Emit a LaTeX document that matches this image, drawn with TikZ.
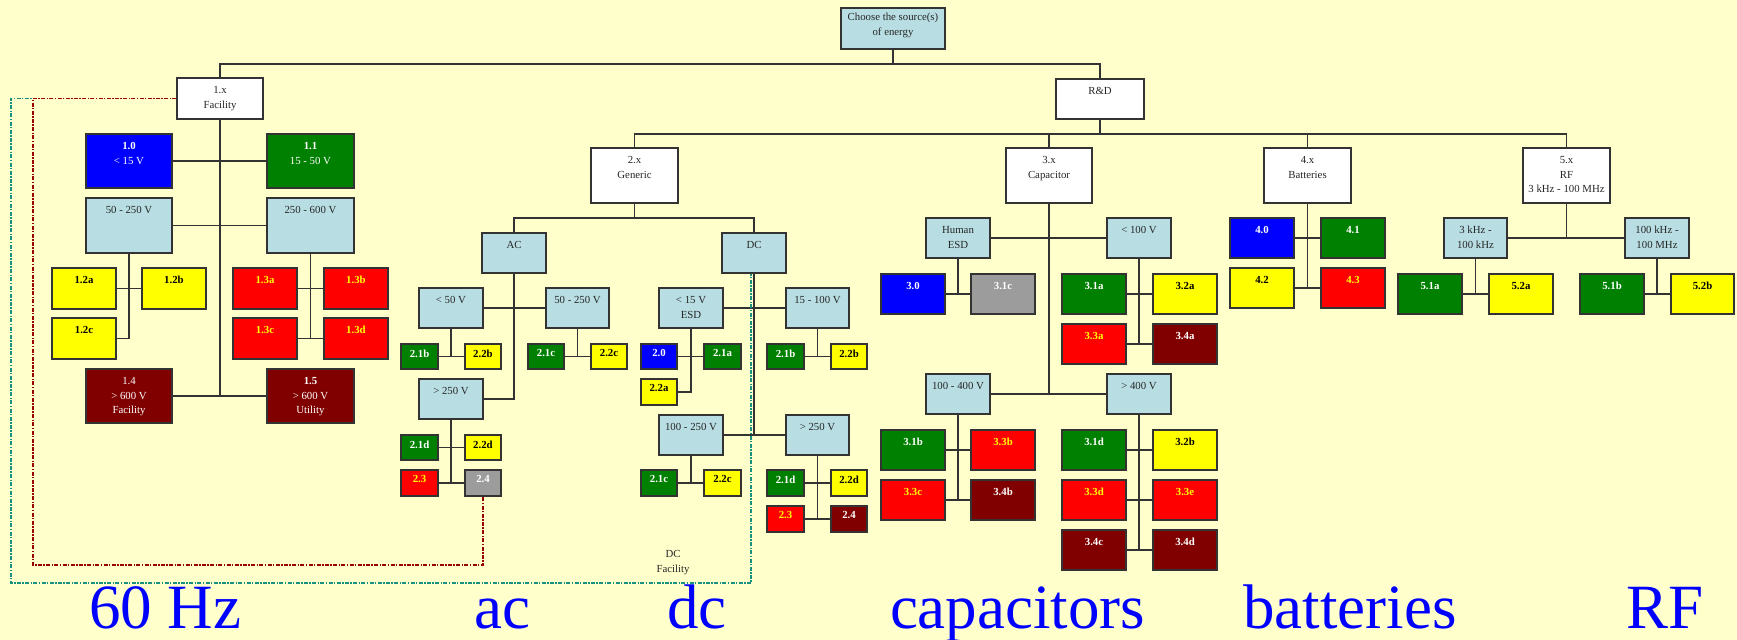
\documentclass[tikz,border=0pt]{standalone}
\usepackage{fontspec}
\setmainfont{Liberation Serif}
\usetikzlibrary{fit}
\definecolor{bg}{HTML}{FFFFCC}
\definecolor{lblue}{HTML}{B8DEE3}
\definecolor{cblue}{HTML}{0000FF}
\definecolor{cgreen}{HTML}{008000}
\definecolor{cyellow}{HTML}{FFFF00}
\definecolor{cred}{HTML}{FF0000}
\definecolor{cmaroon}{HTML}{800000}
\definecolor{cgrey}{HTML}{9C9C9C}
\definecolor{lnc}{HTML}{333333}
\definecolor{tealc}{HTML}{1A9080}
\definecolor{redc}{HTML}{990000}
\newcommand\bfont{\fontsize{5.4}{7.4}\selectfont}
\tikzset{
 box/.style={draw=lnc, line width=0.6pt, inner sep=0pt},
 btext/.style={anchor=north, inner sep=0pt, align=center, font=\bfont},
 lb/.style={fill=lblue}, lb t/.style={text=black!85},
 wh/.style={fill=white}, wh t/.style={text=black!85},
 bl/.style={fill=cblue}, bl t/.style={text=white, font=\bfont\bfseries},
 gr/.style={fill=cgreen}, gr t/.style={text=white, font=\bfont\bfseries},
 ye/.style={fill=cyellow}, ye t/.style={text=black, font=\bfont\bfseries},
 rd/.style={fill=cred}, rd t/.style={text=cyellow, font=\bfont\bfseries},
 mr/.style={fill=cmaroon}, mr t/.style={text=white, font=\bfont\bfseries},
 gy/.style={fill=cgrey}, gy t/.style={text=white, font=\bfont\bfseries},
 conn/.style={draw=lnc, line width=0.7pt},
 tealdot/.style={draw=tealc, line width=0.6pt, dash pattern=on 2pt off 0.7pt on 0.7pt off 0.7pt},
 reddot/.style={draw=redc, line width=0.6pt, dash pattern=on 2pt off 0.7pt on 0.7pt off 0.7pt},
 big/.style={anchor=base west, inner sep=0pt, text=cblue, font=\fontsize{31.5}{36}\selectfont},
}
\newcommand\bx[8][4.2pt]{%
 \node[box,#7,fit={(#3,#4) (#5,#6)}] (#2) {};
 \node[btext,#7 t] (#2-t) at ([yshift=-#1]#2.north) {#8};}
\begin{document}
\begin{tikzpicture}[x=0.5pt,y=-0.5pt]
\useasboundingbox (0,0) rectangle (1737,640);
\fill[bg] (0,0) rectangle (1737,640);
\coordinate (tc1) at (11,583);
\coordinate (rc1) at (33,565);
% top levels
\bx[2.7pt]{choose}{841}{8}{945}{49}{lb}{Choose the source(s)\\of energy}
\bx{f1x}{177}{78}{263}{119}{wh}{1.x\\Facility}
\bx{rd}{1056}{79}{1144}{119}{wh}{R\&D}
\bx{g2x}{591}{148}{678}{203}{wh}{2.x\\Generic}
\bx{c3x}{1006}{148}{1092}{203}{wh}{3.x\\Capacitor}
\bx{b4x}{1264}{148}{1351}{203}{wh}{4.x\\Batteries}
\bx{r5x}{1523}{148}{1610}{203}{wh}{5.x\\RF\\3 kHz - 100 MHz}
% facility
\bx{f10}{86}{134}{172}{188}{bl}{1.0\\\mdseries < 15 V}
\bx{f11}{267}{134}{354}{188}{gr}{1.1\\\mdseries 15 - 50 V}
\bx{f12}{86}{198}{172}{253}{lb}{50 - 250 V}
\bx{f13}{267}{198}{354}{253}{lb}{250 - 600 V}
\bx{f12a}{52}{268}{116}{309}{ye}{1.2a}
\bx{f12b}{142}{268}{206}{309}{ye}{1.2b}
\bx{f12c}{52}{318}{116}{359}{ye}{1.2c}
\bx{f13a}{233}{268}{297}{309}{rd}{1.3a}
\bx{f13b}{324}{268}{388}{309}{rd}{1.3b}
\bx{f13c}{233}{318}{297}{359}{rd}{1.3c}
\bx{f13d}{324}{318}{388}{359}{rd}{1.3d}
\bx{f14}{86}{369}{172}{423}{mr}{\mdseries 1.4\\\mdseries > 600 V\\\mdseries Facility}
\bx{f15}{267}{369}{354}{423}{mr}{1.5\\\mdseries > 600 V\\\mdseries Utility}
% generic
\bx{ac}{482}{233}{546}{273}{lb}{AC}
\bx{dc}{722}{233}{786}{273}{lb}{DC}
\bx{ac50}{419}{288}{483}{328}{lb}{< 50 V}
\bx{ac250}{546}{288}{609}{328}{lb}{50 - 250 V}
\bx{acgt}{419}{379}{483}{419}{lb}{> 250 V}
\bx[3pt]{a21b}{401}{344}{438}{369}{gr}{2.1b}
\bx[3pt]{a22b}{465}{344}{501}{369}{ye}{2.2b}
\bx[3pt]{a21c}{528}{344}{564}{369}{gr}{2.1c}
\bx[3pt]{a22c}{591}{344}{627}{369}{ye}{2.2c}
\bx[3pt]{a21d}{401}{435}{438}{460}{gr}{2.1d}
\bx[3pt]{a22d}{465}{435}{501}{460}{ye}{2.2d}
\bx[3pt]{a23}{401}{470}{438}{496}{rd}{2.3}
\bx[3pt]{a24}{465}{470}{501}{496}{gy}{2.4}
\bx{d15}{659}{288}{723}{328}{lb}{< 15 V\\ESD}
\bx{d100}{786}{288}{849}{328}{lb}{15 - 100 V}
\bx{d250}{659}{415}{723}{455}{lb}{100 - 250 V}
\bx{dgt}{786}{415}{849}{455}{lb}{> 250 V}
\bx[3pt]{d20}{641}{344}{677}{369}{bl}{2.0}
\bx[3pt]{d21a}{704}{344}{741}{369}{gr}{2.1a}
\bx[3pt]{d22a}{641}{379}{677}{405}{ye}{2.2a}
\bx[3pt]{d21b}{767}{344}{804}{369}{gr}{2.1b}
\bx[3pt]{d22b}{831}{344}{867}{369}{ye}{2.2b}
\bx[3pt]{d21c}{641}{470}{677}{496}{gr}{2.1c}
\bx[3pt]{d22c}{704}{470}{741}{496}{ye}{2.2c}
\bx[3pt]{d21d}{767}{470}{804}{496}{gr}{2.1d}
\bx[3pt]{d22d}{831}{470}{867}{496}{ye}{2.2d}
\bx[3pt]{d23}{767}{506}{804}{532}{rd}{2.3}
\bx[3pt]{d24}{831}{506}{867}{532}{mr}{2.4}
% capacitor
\bx{hesd}{926}{218}{990}{258}{lb}{Human\\ESD}
\bx{c100}{1107}{218}{1171}{258}{lb}{< 100 V}
\bx{c400}{926}{374}{990}{414}{lb}{100 - 400 V}
\bx{cgt}{1107}{374}{1171}{414}{lb}{> 400 V}
\bx{c30}{881}{274}{945}{314}{bl}{3.0}
\bx{c31c}{971}{274}{1035}{314}{gy}{3.1c}
\bx{c31a}{1062}{274}{1126}{314}{gr}{3.1a}
\bx{c32a}{1153}{274}{1217}{314}{ye}{3.2a}
\bx{c33a}{1062}{324}{1126}{364}{rd}{3.3a}
\bx{c34a}{1153}{324}{1217}{364}{mr}{3.4a}
\bx{c31b}{881}{430}{945}{470}{gr}{3.1b}
\bx{c33b}{971}{430}{1035}{470}{rd}{3.3b}
\bx{c33c}{881}{480}{945}{520}{rd}{3.3c}
\bx{c34b}{971}{480}{1035}{520}{mr}{3.4b}
\bx{c31d}{1062}{430}{1126}{470}{gr}{3.1d}
\bx{c32b}{1153}{430}{1217}{470}{ye}{3.2b}
\bx{c33d}{1062}{480}{1126}{520}{rd}{3.3d}
\bx{c33e}{1153}{480}{1217}{520}{rd}{3.3e}
\bx{c34c}{1062}{530}{1126}{570}{mr}{3.4c}
\bx{c34d}{1153}{530}{1217}{570}{mr}{3.4d}
% batteries
\bx{b40}{1230}{218}{1294}{258}{bl}{4.0}
\bx{b41}{1321}{218}{1385}{258}{gr}{4.1}
\bx{b42}{1230}{268}{1294}{308}{ye}{4.2}
\bx{b43}{1321}{268}{1385}{308}{rd}{4.3}
% RF
\bx{rf1}{1444}{218}{1507}{258}{lb}{3 kHz -\\100 kHz}
\bx{rf2}{1625}{218}{1689}{258}{lb}{100 kHz -\\100 MHz}
\bx{r51a}{1398}{274}{1462}{314}{gr}{5.1a}
\bx{r52a}{1489}{274}{1553}{314}{ye}{5.2a}
\bx{r51b}{1580}{274}{1644}{314}{gr}{5.1b}
\bx{r52b}{1671}{274}{1734}{314}{ye}{5.2b}
% bus coordinates
\coordinate (bus0) at (0,64);
\coordinate (bus1) at (0,134);
\coordinate (bus2) at (0,218);
% connectors
\draw[conn] (choose.south) -- (choose.south |- bus0);
\draw[conn] (f1x.north) |- (rd.north |- bus0) -- (rd.north);
\draw[conn] (rd.south) -- (rd.south |- bus1);
\draw[conn] (g2x.north) |- (r5x.north |- bus1) -- (r5x.north);
\draw[conn] (c3x.north) -- (c3x.north |- bus1);
\draw[conn] (b4x.north) -- (b4x.north |- bus1);
% facility
\draw[conn] (f1x.south) -- (f1x.south |- f14.east);
\draw[conn] (f10.east) -- (f11.west);
\draw[conn] (f12.east) -- (f13.west);
\draw[conn] (f14.east) -- (f15.west);
\draw[conn] (f12.south) |- (f12c.east);
\draw[conn] (f12a.east) -- (f12b.west);
\draw[conn] (f13.south) -- (f13.south |- f13c.east);
\draw[conn] (f13a.east) -- (f13b.west);
\draw[conn] (f13c.east) -- (f13d.west);
% generic
\draw[conn] (g2x.south) -- (g2x.south |- bus2);
\draw[conn] (ac.north) |- (dc.north |- bus2) -- (dc.north);
\draw[conn] (ac.south) |- (acgt.east);
\draw[conn] (ac50.east) -- (ac250.west);
\draw[conn] (ac50.south) -- (ac50.south |- a21b.east);
\draw[conn] (a21b.east) -- (a22b.west);
\draw[conn] (ac250.south) -- (ac250.south |- a21c.east);
\draw[conn] (a21c.east) -- (a22c.west);
\draw[conn] (acgt.south) -- (acgt.south |- a23.east);
\draw[conn] (a21d.east) -- (a22d.west);
\draw[conn] (a23.east) -- (a24.west);
\draw[conn] (dc.south) -- (dc.south |- dgt.west);
\draw[conn] (d15.east) -- (d100.west);
\draw[conn] (d250.east) -- (dgt.west);
\draw[conn] (d15.south) |- (d22a.east);
\draw[conn] (d20.east) -- (d21a.west);
\draw[conn] (d100.south) -- (d100.south |- d21b.east);
\draw[conn] (d21b.east) -- (d22b.west);
\draw[conn] (d250.south) -- (d250.south |- d21c.east);
\draw[conn] (d21c.east) -- (d22c.west);
\draw[conn] (dgt.south) -- (dgt.south |- d23.east);
\draw[conn] (d21d.east) -- (d22d.west);
\draw[conn] (d23.east) -- (d24.west);
% capacitor
\draw[conn] (c3x.south) -- (c3x.south |- c400.east);
\draw[conn] (hesd.east) -- (c100.west);
\draw[conn] (c400.east) -- (cgt.west);
\draw[conn] (hesd.south) -- (hesd.south |- c30.east);
\draw[conn] (c30.east) -- (c31c.west);
\draw[conn] (c100.south) -- (c100.south |- c33a.east);
\draw[conn] (c31a.east) -- (c32a.west);
\draw[conn] (c33a.east) -- (c34a.west);
\draw[conn] (c400.south) -- (c400.south |- c33c.east);
\draw[conn] (c31b.east) -- (c33b.west);
\draw[conn] (c33c.east) -- (c34b.west);
\draw[conn] (cgt.south) -- (cgt.south |- c34c.east);
\draw[conn] (c31d.east) -- (c32b.west);
\draw[conn] (c33d.east) -- (c33e.west);
\draw[conn] (c34c.east) -- (c34d.west);
% batteries
\draw[conn] (b4x.south) -- (b4x.south |- b42.east);
\draw[conn] (b40.east) -- (b41.west);
\draw[conn] (b42.east) -- (b43.west);
% RF
\draw[conn] (r5x.south) -- (r5x.south |- rf1.east);
\draw[conn] (rf1.east) -- (rf2.west);
\draw[conn] (rf1.south) -- (rf1.south |- r51a.east);
\draw[conn] (r51a.east) -- (r52a.west);
\draw[conn] (rf2.south) -- (rf2.south |- r51b.east);
\draw[conn] (r51b.east) -- (r52b.west);
% dotted frames
\draw[tealdot] (f1x.west) -| (tc1) -| ([xshift=-1.5pt]dc.south);
\draw[reddot] (f1x.west) -| (rc1) -| (a24.south);
\node[btext,text=black!85] (dcfac) at (673,550) {DC\\Facility};
% bottom labels
\node[big] (l60) at (88.6,629) {60 Hz};
\node[big] (lac) at (474,629) {ac};
\node[big] (ldc) at (667,629) {dc};
\node[big] (lcap) at (889.6,629) {capacitors};
\node[big] (lbat) at (1243,629) {batteries};
\node[big] (lrf) at (1626,629) {RF};
\end{tikzpicture}
\end{document}
